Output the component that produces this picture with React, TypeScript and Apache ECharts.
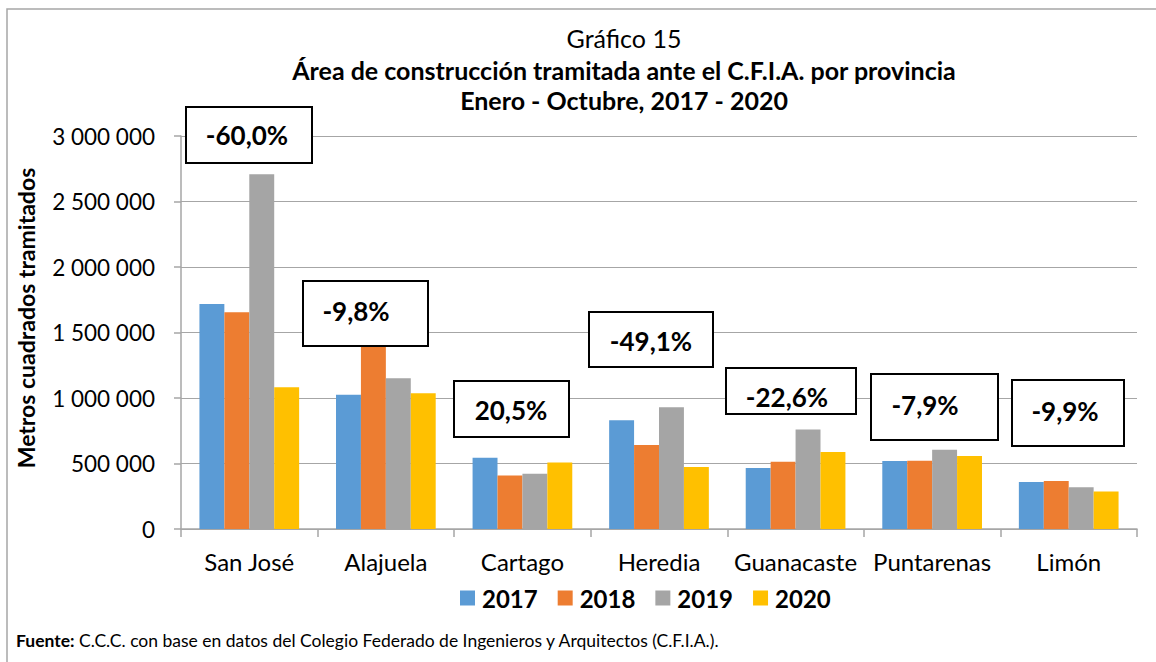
import React, { useEffect, useRef } from "react";
import * as echarts from "echarts";

const provinces = ["San José", "Alajuela", "Cartago", "Heredia", "Guanacaste", "Puntarenas", "Limón"];
const years = ["2017", "2018", "2019", "2020"];
const v2017 = [1718000, 1024000, 544000, 831000, 465000, 519000, 358000];
const v2018 = [1655000, 1480000, 409000, 641000, 513000, 521000, 366000];
const v2019 = [2708000, 1150000, 422000, 930000, 760000, 605000, 319000];
const v2020 = [1083000, 1037000, 508000, 473000, 588000, 557000, 287000];
const changeLabels = ["-60,0%", "-9,8%", "20,5%", "-49,1%", "-22,6%", "-7,9%", "-9,9%"];
const yTicks = [0, 500000, 1000000, 1500000, 2000000, 2500000, 3000000];

const colors = ["#5b9bd5", "#ed7d31", "#a5a5a5", "#ffc000"];
const FONT = "Lato, Carlito, 'Open Sans', sans-serif";

// annotation box layout: [x, y, w, h, textX, textY]
const boxLayout = [
  [186, 107, 126, 56, 247, 135],
  [303, 281, 125, 65, 356, 311],
  [454, 381, 115, 56, 511, 410],
  [589, 312, 124, 55, 651, 341],
  [726, 368, 130, 46, 787, 397],
  [871, 374, 127, 66, 925, 405],
  [1012, 380, 112, 66, 1065, 411],
];

const fmt = (v: number) => String(v).replace(/\B(?=(\d{3})+(?!\d))/g, " ");

export default function App() {
  const ref = useRef<HTMLDivElement>(null);
  useEffect(() => {
    if (!ref.current) return;
    const chart = echarts.init(ref.current, null, { renderer: "svg" });
    const seriesData = [v2017, v2018, v2019, v2020];
    const graphics: any[] = [
      {
        type: "rect",
        shape: { x: 7, y: 9, width: 1200, height: 700 },
        style: { fill: "none", stroke: "#a6a6a6", lineWidth: 1.5 },
        z: 100,
      },
      {
        type: "text",
        x: 624,
        y: 38,
        style: { text: "Gráfico 15", font: `25px ${FONT}`, fill: "#000", textAlign: "center", textVerticalAlign: "middle" },
      },
      {
        type: "text",
        x: 624,
        y: 70,
        style: {
          text: "Área de construcción tramitada ante el C.F.I.A. por provincia",
          font: `bold 25px ${FONT}`,
          fill: "#000",
          textAlign: "center",
          textVerticalAlign: "middle",
        },
      },
      {
        type: "text",
        x: 624,
        y: 100,
        style: {
          text: "Enero - Octubre, 2017 - 2020",
          font: `bold 25px ${FONT}`,
          fill: "#000",
          textAlign: "center",
          textVerticalAlign: "middle",
        },
      },
      {
        type: "text",
        x: 26,
        y: 318,
        rotation: Math.PI / 2,
        style: {
          text: "Metros cuadrados tramitados",
          font: `bold 23px ${FONT}`,
          fill: "#000",
          textAlign: "center",
          textVerticalAlign: "middle",
        },
      },
      {
        type: "text",
        x: 16,
        y: 640,
        style: {
          text: "{b|Fuente:} C.C.C. con base en datos del Colegio Federado de Ingenieros y Arquitectos (C.F.I.A.).",
          font: `17.5px ${FONT}`,
          fill: "#000",
          textVerticalAlign: "middle",
          rich: { b: { fontWeight: "bold", fontSize: 17.5, fontFamily: FONT } },
        },
      },
    ];
    changeLabels.forEach((lab, i) => {
      const [x, y, w, h, tx, ty] = boxLayout[i];
      graphics.push({
        type: "rect",
        shape: { x, y, width: w, height: h },
        style: { fill: "#fff", stroke: "#000", lineWidth: 2 },
        z: 50,
      });
      graphics.push({
        type: "text",
        x: tx,
        y: ty,
        z: 51,
        style: {
          text: lab,
          font: `bold 26px ${FONT}`,
          fill: "#000",
          textAlign: "center",
          textVerticalAlign: "middle",
        },
      });
    });

    chart.setOption({
      animation: false,
      backgroundColor: "#fff",
      textStyle: { fontFamily: FONT },
      grid: { left: 181, right: 19, top: 136, bottom: 133, containLabel: false },
      legend: {
        left: 455,
        top: 581,
        itemWidth: 15,
        itemHeight: 15,
        itemGap: 20,
        icon: "rect",
        textStyle: { fontSize: 24, fontWeight: "bold", color: "#000", fontFamily: FONT, padding: [0, 0, 0, 2] },
        data: years,
      },
      xAxis: {
        type: "category",
        data: provinces,
        axisLine: { lineStyle: { color: "#a6a6a6", width: 1.5 } },
        axisTick: { show: true, length: 8, interval: 0, lineStyle: { color: "#a6a6a6", width: 1.5 } },
        axisLabel: { fontSize: 24, color: "#000", margin: 20, fontFamily: FONT, interval: 0 },
      },
      yAxis: {
        type: "value",
        min: 0,
        max: 3000000,
        interval: 500000,
        axisLine: { show: true, lineStyle: { color: "#a6a6a6", width: 1.5 } },
        axisTick: { show: true, inside: false, length: 7, lineStyle: { color: "#a6a6a6", width: 1.5 } },
        splitLine: { lineStyle: { color: "#a6a6a6", width: 1.2 } },
        axisLabel: {
          fontSize: 22.5,
          color: "#000",
          margin: 26,
          fontFamily: FONT,
          formatter: (v: number) => (yTicks.includes(v) ? fmt(v) : ""),
        },
      },
      series: years.map((y, i) => ({
        name: y,
        type: "bar",
        data: seriesData[i],
        barGap: "0%",
        barCategoryGap: "27%",
        itemStyle: { color: colors[i] },
      })),
      graphic: graphics,
    });
    return () => chart.dispose();
  }, []);
  return <div ref={ref} style={{ position: "fixed", left: 0, top: 0, width: 1156, height: 662 }} />;
}
